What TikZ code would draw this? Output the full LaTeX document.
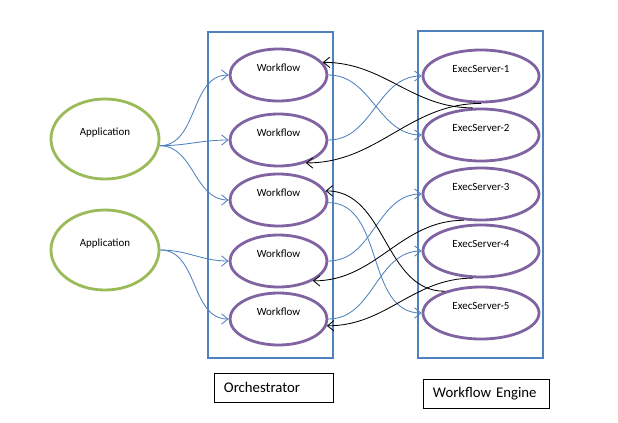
\documentclass[tikz,border=0pt]{standalone}
\usepackage{fontspec}
\setmainfont{Carlito}
\usetikzlibrary{arrows.meta,shapes.geometric}
\definecolor{frameblue}{RGB}{79,129,189}
\definecolor{wfpurple}{RGB}{128,100,162}
\definecolor{appgreen}{RGB}{155,187,89}
\tikzset{
  frame/.style={draw=frameblue, rectangle, line width=2pt, minimum width=3.125cm},
  appl/.style={draw=appgreen, ellipse, line width=2pt, minimum width=2.7cm, minimum height=2cm, font=\fontsize{7.8}{9}\selectfont, text height=6pt, text depth=11pt},
  wf/.style={draw=wfpurple, ellipse, line width=2pt, minimum width=2.425cm, minimum height=1.3cm, font=\fontsize{7.8}{9}\selectfont, text height=6pt, text depth=11pt},
  srv/.style={draw=wfpurple, ellipse, line width=2pt, minimum width=2.9cm, minimum height=1.3cm, font=\fontsize{7.8}{9}\selectfont, text height=6pt, text depth=11pt},
  lbl/.style={draw, rectangle, thin, inner xsep=0.25cm, minimum height=0.725cm, align=left, font=\fontsize{10.5}{12}\selectfont},
  call/.style={-{Straight Barb[length=1.6mm, width=2.6mm]}, frameblue, line width=0.6pt},
  ret/.style={-{Straight Barb[length=1.6mm, width=2.6mm]}, black, line width=0.6pt},
}
\begin{document}
\begin{tikzpicture}[x=0.025cm, y=-0.025cm]
\useasboundingbox (0,0) rectangle (618,422);

\node[frame, minimum height=8.15cm] (orch) at (270.5,195) {};
\node[frame, minimum height=8.175cm] (engine) at (480.5,194.5) {};

\node[appl] (app1) at (105,139) {Application};
\node[appl] (app2) at (105,250) {Application};

\node[wf] (wf1) at (278.5,75) {Workflow};
\node[wf] (wf2) at (278.5,140) {Workflow};
\node[wf] (wf3) at (278.5,200) {Workflow};
\node[wf] (wf4) at (278.5,261) {Workflow};
\node[wf] (wf5) at (278.5,319) {Workflow};

\node[srv] (es1) at (481,76) {ExecServer-1};
\node[srv] (es2) at (481,135) {ExecServer-2};
\node[srv] (es3) at (481,194) {ExecServer-3};
\node[srv] (es4) at (481,251) {ExecServer-4};
\node[srv] (es5) at (481,313) {ExecServer-5};

\node[lbl, text width=2.475cm] (orchlbl) at (273.5,387.5) {Orchestrator};
\node[lbl, text width=2.65cm] (englbl) at (486,393.5) {Workflow Engine};

\draw[call] (app1.-7) to[out=0, in=180] (wf1.west);
\draw[call] (app1.-7) to[out=0, in=180] (wf2.west);
\draw[call] (app1.-7) to[out=0, in=180] (wf3.west);
\draw[call] (app2.east) to[out=0, in=180] (wf4.west);
\draw[call] (app2.east) to[out=0, in=180] (wf5.west);

\draw[call] (wf1.east) to[out=0, in=180] (es2.west);
\draw[call] (wf2.east) to[out=0, in=180] (es1.west);
\draw[call] (wf3.-3) to[out=0, in=180] (es5.west);
\draw[call] (wf4.east) to[out=0, in=180] (es3.west);
\draw[call] (wf5.east) to[out=0, in=180] (es4.west);

\draw[ret] (es1.south) to[out=180, in=0] (wf2.-40);
\draw[ret] (es2.107) to[out=180, in=0] (wf1.16);
\draw[ret] (es3.237) to[out=180, in=0] (wf4.-30);
\draw[ret] (es4.253) to[out=180, in=0] (wf5.-8);
\draw[ret] (es5.149) to[out=180, in=0] (wf3.11);

\end{tikzpicture}
\end{document}
